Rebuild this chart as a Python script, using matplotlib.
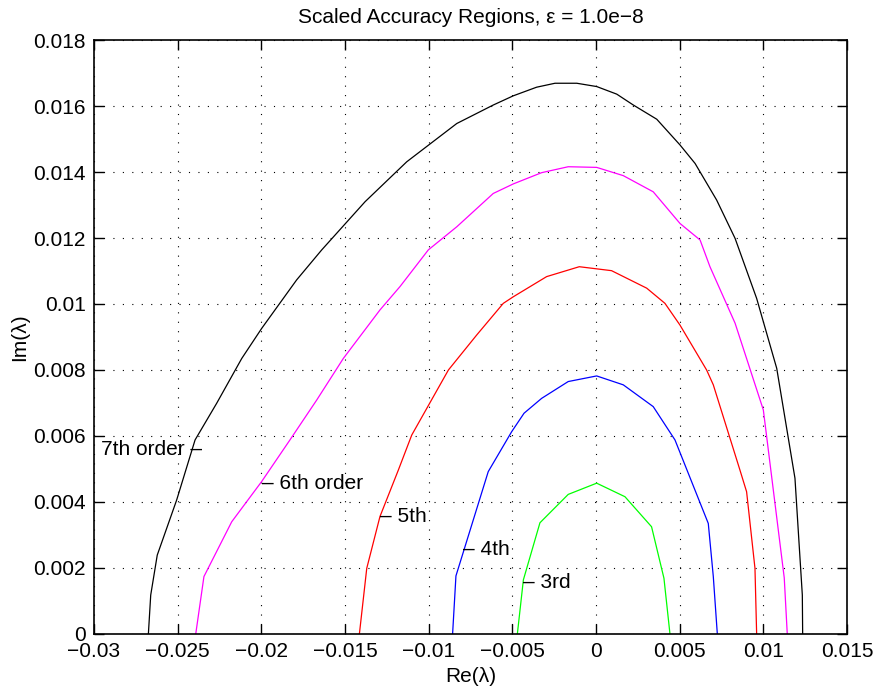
import matplotlib
matplotlib.use("Agg")
import matplotlib.pyplot as plt

plt.rcParams['font.family'] = ['Liberation Sans', 'DejaVu Sans']

# 7th order (black)
re7 = [-0.02675, -0.02661, -0.02622, -0.02506, -0.02396, -0.02267, -0.02117, -0.01998,
       -0.01789, -0.01639, -0.0138, -0.01131, -0.00832, -0.00614, -0.00494, -0.00355,
       -0.00245, -0.00115, 0.00004, 0.00124, 0.00223, 0.00363, 0.00502, 0.00592,
       0.00721, 0.00831, 0.0096, 0.0108, 0.01189, 0.01233, 0.01235]
im7 = [0, 0.00118, 0.00239, 0.00406, 0.00588, 0.00699, 0.00835, 0.00926,
       0.01073, 0.01164, 0.0131, 0.01431, 0.01547, 0.01603, 0.01631, 0.01657,
       0.01669, 0.01669, 0.01659, 0.01636, 0.01603, 0.0156, 0.01482, 0.01426,
       0.01315, 0.01199, 0.01017, 0.00805, 0.00472, 0.00118, 0]

# 6th order (magenta)
re6 = [-0.02392, -0.02343, -0.02177, -0.01998, -0.01829, -0.01669, -0.0151, -0.01291,
       -0.01171, -0.01002, -0.00832, -0.00614, -0.00494, -0.00325, -0.00166, 0.00004,
       0.00163, 0.00342, 0.00502, 0.00622, 0.00681, 0.00831, 0.01, 0.01125, 0.01143]
im6 = [0, 0.00174, 0.0034, 0.00462, 0.00588, 0.00709, 0.00835, 0.00982,
       0.01053, 0.01164, 0.01234, 0.01335, 0.01364, 0.01398, 0.01416, 0.01414,
       0.01389, 0.0134, 0.01244, 0.01194, 0.01113, 0.00942, 0.00679, 0.0017, 0]

# 5th order (red)
re5 = [-0.01414, -0.0137, -0.01291, -0.01181, -0.01101, -0.00882, -0.00713, -0.00554,
       -0.00494, -0.00295, -0.001, 0.00093, 0.00303, 0.00412, 0.00502, 0.00661,
       0.00701, 0.0086, 0.009, 0.0095, 0.0096]
im5 = [0, 0.00199, 0.00356, 0.00497, 0.00603, 0.008, 0.00906, 0.01002,
       0.01022, 0.01083, 0.01113, 0.01101, 0.01048, 0.01002, 0.00936, 0.008,
       0.00755, 0.00497, 0.00431, 0.00199, 0]

# 4th order (blue)
re4 = [-0.00857, -0.00837, -0.00644, -0.00504, -0.0043, -0.00325, -0.00166, 0.00004,
       0.00163, 0.00342, 0.00472, 0.00671, 0.00701, 0.00725]
im4 = [0, 0.00176, 0.00492, 0.00613, 0.00669, 0.00714, 0.00765, 0.00782,
       0.00755, 0.00689, 0.00588, 0.00335, 0.00174, 0]

# 3rd order (green)
re3 = [-0.0047, -0.00434, -0.00335, -0.00166, 0.00004, 0.00173, 0.00332, 0.00406, 0.00442]
im3 = [0, 0.00164, 0.00337, 0.00423, 0.00457, 0.00416, 0.00325, 0.00169, 0]

xticks = [-0.03, -0.025, -0.02, -0.015, -0.01, -0.005, 0, 0.005, 0.01, 0.015]
xticklabels = ["\u22120.03", "\u22120.025", "\u22120.02", "\u22120.015", "\u22120.01",
               "\u22120.005", "0", "0.005", "0.01", "0.015"]
yticks = [0, 0.002, 0.004, 0.006, 0.008, 0.01, 0.012, 0.014, 0.016, 0.018]
yticklabels = ["0", "0.002", "0.004", "0.006", "0.008", "0.01", "0.012", "0.014", "0.016", "0.018"]

fig = plt.figure(figsize=(8.76, 6.90), dpi=100)
ax = fig.add_axes([0.1073, 0.0812, 0.8596, 0.8608])

lw = 0.9
ax.plot(re7, im7, color='black', lw=lw)
ax.plot(re6, im6, color='#ff00ff', lw=lw)
ax.plot(re5, im5, color='#ff0000', lw=lw)
ax.plot(re4, im4, color='#0000ff', lw=lw)
ax.plot(re3, im3, color='#00ff00', lw=lw)

fs = 15
ax.text(-0.02355, 0.00558, "7th order \u2013", ha='right', va='center', fontsize=fs)
ax.text(-0.01998, 0.00457, "\u2013 6th order", ha='left', va='center', fontsize=fs)
ax.text(-0.0129, 0.00356, "\u2013 5th", ha='left', va='center', fontsize=fs)
ax.text(-0.00797, 0.00255, "\u2013 4th", ha='left', va='center', fontsize=fs)
ax.text(-0.00438, 0.00156, "\u2013 3rd", ha='left', va='center', fontsize=fs)

ax.set_xlim(-0.03, 0.015)
ax.set_ylim(0, 0.018)
ax.set_xticks(xticks)
ax.set_xticklabels(xticklabels, fontsize=fs)
ax.set_yticks(yticks)
ax.set_yticklabels(yticklabels, fontsize=fs)
ax.tick_params(direction='in', length=7, width=1, top=True, right=True, pad=6)
for s in ax.spines.values():
    s.set_linewidth(1.2)
ax.grid(True, linestyle=(0, (1, 7.5)), color='black', linewidth=0.8)

ax.set_xlabel("Re(\u03bb)", fontsize=fs, labelpad=4)
ax.set_ylabel("Im(\u03bb)", fontsize=fs, labelpad=3)
ax.set_title("Scaled Accuracy Regions, \u03b5 = 1.0e\u22128", fontsize=fs, pad=12)

fig.savefig("out.png", dpi=100)
